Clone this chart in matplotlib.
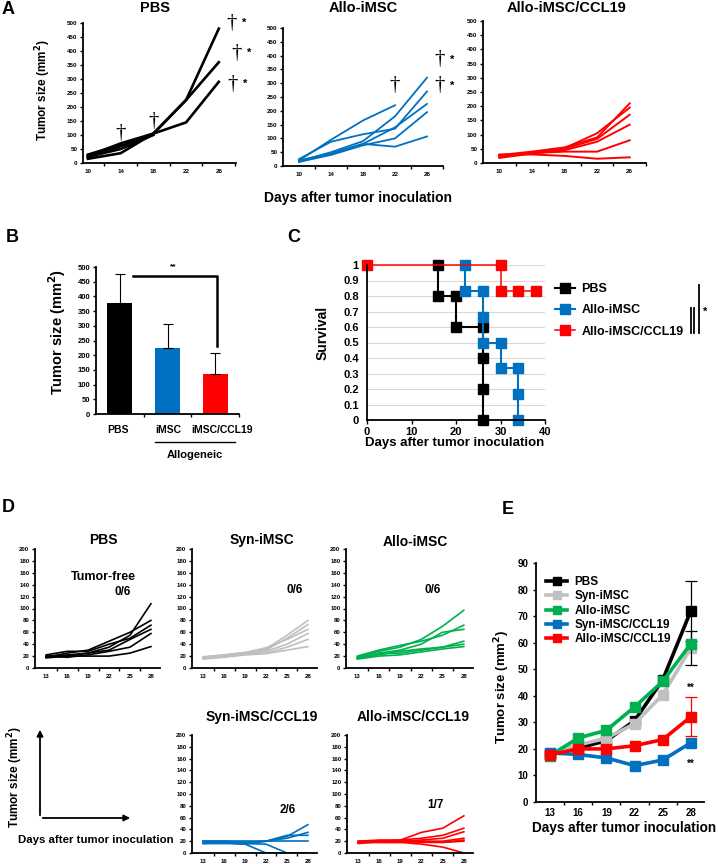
import numpy as np
import matplotlib
matplotlib.use('Agg')
import matplotlib.pyplot as plt
from matplotlib.lines import Line2D
from matplotlib.patches import FancyArrowPatch

plt.rcParams['font.family'] = ['Liberation Sans', 'DejaVu Sans']
plt.rcParams['font.weight'] = 'bold'
plt.rcParams['axes.labelweight'] = 'bold'
plt.rcParams['axes.linewidth'] = 1.3

W, H = 718, 864

# ---------------- data ----------------
# A: individual tumour sizes (mm2), shorter rows = mouse died
a_days = [10, 14, 18, 22, 26]
a_pbs = [[25, 70, 105, 225, 480],
         [20, 60, 105, 225, 360],
         [15, 35, 105, 145, 290],
         [30, 65],
         [22, 50, 100]]
a_allo = [[20, 95, 165, 220],
          [25, 88, 115, 135, 270],
          [18, 50, 90, 180, 320],
          [15, 45, 80, 140, 225],
          [15, 40, 75, 100, 195],
          [20, 45, 80, 70, 107]]
a_ccl19 = [[28, 40, 55, 90, 210],
           [25, 38, 52, 105, 195],
           [20, 35, 50, 85, 170],
           [18, 33, 45, 75, 135],
           [22, 35, 40, 40, 80],
           [30, 30, 25, 15, 20]]

# B: mean tumour size at day 26
b_groups = ['PBS', 'iMSC', 'iMSC/CCL19']
b_mean = [378, 226, 135]
b_err = [97, 80, 72]

# C: survival curves
c_pbs_t = [16, 16, 20, 20, 26, 26, 26, 26]
c_pbs_s = [1, 0.8, 0.8, 0.6, 0.6, 0.4, 0.2, 0]
c_allo_t = [22, 22, 26, 26, 26, 30, 30, 34, 34, 34]
c_allo_s = [1, 0.833, 0.833, 0.667, 0.5, 0.5, 0.333, 0.333, 0.167, 0]
c_ccl_t = [0, 30, 30, 34, 38]
c_ccl_s = [1, 1, 0.833, 0.833, 0.833]

# D: individual tumour sizes, days 13-28
d_days = [13, 16, 19, 22, 25, 28]
d_pbs = [[20, 22, 25, 35, 55, 108],
         [18, 25, 30, 45, 60, 80],
         [22, 28, 28, 40, 50, 72],
         [17, 20, 25, 30, 48, 65],
         [20, 18, 22, 28, 35, 58],
         [18, 20, 20, 20, 25, 36]]
d_syn = [[18, 22, 26, 32, 55, 80],
         [17, 20, 25, 30, 50, 73],
         [19, 22, 26, 34, 48, 65],
         [16, 20, 23, 28, 40, 58],
         [18, 21, 24, 25, 35, 48],
         [15, 18, 22, 24, 30, 36]]
d_allo = [[18, 28, 35, 48, 70, 97],
          [20, 30, 38, 45, 55, 72],
          [17, 25, 30, 40, 60, 65],
          [16, 22, 28, 32, 35, 45],
          [18, 24, 25, 30, 35, 40],
          [15, 20, 22, 27, 32, 36]]
d_synccl = [[20, 20, 18, 20, 28, 48],
            [18, 18, 18, 20, 25, 35],
            [16, 18, 15, 20, 30, 30],
            [20, 20, 20, 20, 20, 20],
            [18, 17, 15, 0, 0, 0],
            [16, 16, 16, 15, 0, 0]]
d_alloccl = [[18, 20, 22, 35, 42, 63],
             [20, 22, 22, 25, 30, 42],
             [16, 20, 20, 22, 25, 36],
             [18, 20, 20, 20, 20, 25],
             [20, 18, 18, 20, 18, 22],
             [17, 18, 18, 15, 10, 0],
             [19, 20, 20, 18, 18, 20]]

# E: mean tumour size
e_labels = ['PBS', 'Syn-iMSC', 'Allo-iMSC', 'Syn-iMSC/CCL19', 'Allo-iMSC/CCL19']
e_pbs = [18, 20.3, 23.1, 30.6, 46, 72]
e_syn = [18.5, 21.5, 24, 29.5, 40.4, 58]
e_allo = [17.5, 24.1, 27, 35.8, 45.4, 59.6]
e_synccl = [18.5, 17.9, 16.6, 13.7, 15.8, 22.3]
e_alloccl = [17.8, 20, 20, 21.2, 23.5, 32.1]
e_err28 = [11.3, 6.5, 0, 0, 7.3]

BLACK, BLUE, RED, GREEN, GREY = 'black', '#0070C0', '#FF0000', '#00B050', '#BFBFBF'

fig = plt.figure(figsize=(W / 100, H / 100), dpi=100)


def px_axes(l, t, r, b):
    return fig.add_axes([l / W, 1 - b / H, (r - l) / W, (b - t) / H])


def T(x, y, s, **kw):
    kw.setdefault('ha', 'center')
    kw.setdefault('va', 'center')
    fig.text(x / W, 1 - y / H, s, **kw)


def fline(xs, ys, lw=1.3, color='black'):
    fig.add_artist(Line2D([x / W for x in xs], [1 - y / H for y in ys],
                          lw=lw, color=color))


def base(ax, fs):
    for s in ['top', 'right']:
        ax.spines[s].set_visible(False)
    ax.tick_params(labelsize=fs, width=1, length=2.5, pad=1.5)


def cat_x(ax, labels, bounds, fs):
    ax.set_xticks(bounds)
    ax.set_xticklabels([])
    ax.set_xticks(labels, minor=True)
    ax.set_xticklabels([str(v) for v in labels], minor=True, fontsize=fs)
    ax.tick_params(axis='x', which='minor', length=0, pad=4)


# ---------------- A ----------------
T(8, 10, 'A', fontsize=13)
a_specs = [(83, 23, 236, 163, (9.4, 28.1), a_pbs, BLACK, 1.9, 'PBS', 155),
           (283, 28, 443, 166, (8, 28), a_allo, BLUE, 1.3, 'Allo-iMSC', 363),
           (483, 21, 646, 163, (8, 28), a_ccl19, RED, 1.4, 'Allo-iMSC/CCL19', 567)]
a_axes = []
for l, t, r, b, xl, series, col, lw, title, tx in a_specs:
    ax = px_axes(l, t, r, b)
    base(ax, 4.5)
    for v in series:
        ax.plot(a_days[:len(v)], v, color=col, lw=lw)
    ax.set_xlim(*xl)
    ax.set_ylim(0, 500)
    ax.set_yticks(range(0, 501, 50))
    cat_x(ax, a_days, [12, 16, 20, 24, 28], 4.5)
    T(tx, 8, title, fontsize=10.5)
    a_axes.append(ax)

dag = dict(fontsize=15, family='Liberation Serif', fontweight='normal',
           ha='center', va='center', clip_on=False)
ax = a_axes[0]
ax.text(14, 107, '†', **dag)
ax.text(18, 148, '†', **dag)
for x, y in [(27.6, 500), (28.2, 392), (27.7, 282)]:
    ax.text(x, y, '†', **dag)
    ax.text(x + 1.5, y, '*', fontsize=8, ha='center', va='center', clip_on=False)
ax = a_axes[1]
ax.text(22, 292, '†', **dag)
for x, y in [(27.6, 385), (27.6, 290)]:
    ax.text(x, y, '†', **dag)
    ax.text(x + 1.6, y, '*', fontsize=8, ha='center', va='center', clip_on=False)
T(43, 90, 'Tumor size (mm$^2$)', fontsize=8.5, rotation=90)
T(358, 198, 'Days after tumor inoculation', fontsize=10)

# ---------------- B ----------------
T(12, 237, 'B', fontsize=13)
ax = px_axes(96, 267, 239, 414)
base(ax, 5.5)
xb = np.arange(len(b_groups))
ax.bar(xb, b_mean, width=0.52, color=[BLACK, BLUE, RED])
ax.errorbar(xb, b_mean, yerr=[np.zeros(3), b_err], fmt='none', ecolor='black',
            elinewidth=0.8, capsize=3.5, capthick=0.8)
ax.set_xlim(-0.5, 2.5)
ax.set_ylim(0, 500)
ax.set_yticks(range(0, 501, 50))
ax.set_xticks([0.5, 1.5, 2.5])
ax.set_xticklabels([])
ax.plot([0.28, 2.04, 2.04], [470, 470, 232], color='black', lw=1.8, clip_on=False)
ax.text(1.11, 500, '**', fontsize=6, ha='center', va='center', clip_on=False)
for xx, g in zip([118, 168, 222], b_groups):
    T(xx, 430, g, fontsize=7.5)
fline([155, 235], [442, 442], lw=1)
T(195, 455, 'Allogeneic', fontsize=8)
T(57, 332, 'Tumor size (mm$^2$)', fontsize=10.5, rotation=90)

# ---------------- C ----------------
T(294, 237, 'C', fontsize=13)
ax = px_axes(367, 265, 545, 420)
base(ax, 8)
ax.set_xlim(0, 40)
ax.set_ylim(0, 1)
ax.set_yticks(np.arange(0, 1.01, 0.1))
ax.set_yticklabels(['0'] + ['%.1f' % v for v in np.arange(0.1, 0.95, 0.1)] + ['1'])
ax.set_xticks(range(0, 41, 10))
ax.tick_params(axis='y', length=0, pad=6)
ax.tick_params(axis='x', length=3, pad=2)
for g in np.arange(0.1, 1.01, 0.1):
    ax.axhline(g, color='#d9d9d9', lw=0.8, zorder=0)
h1, = ax.plot(c_pbs_t, c_pbs_s, color=BLACK, lw=1.5, marker='s', ms=7, clip_on=False)
h2, = ax.plot(c_allo_t, c_allo_s, color=BLUE, lw=1.5, marker='s', ms=7, clip_on=False)
h3, = ax.plot(c_ccl_t, c_ccl_s, color=RED, lw=1.1, marker='s', ms=7, clip_on=False)
ax.legend([h1, h2, h3], ['PBS', 'Allo-iMSC', 'Allo-iMSC/CCL19'], loc='upper left',
          bbox_to_anchor=(555 / W, 1 - 283 / H), bbox_transform=fig.transFigure,
          frameon=False, fontsize=9, handlelength=1.6, handletextpad=0.5,
          labelspacing=0.75, borderaxespad=0, borderpad=0)
T(323, 333, 'Survival', fontsize=10, rotation=90)
T(455, 443, 'Days after tumor inoculation', fontsize=9.5)
fline([699, 699], [285, 333], lw=1.3)
fline([690.5, 690.5], [308, 333], lw=1.3)
fline([694, 694], [308, 333], lw=1.3)
T(705, 312, '*', fontsize=8)

# ---------------- D ----------------
T(8, 508, 'D', fontsize=13)
d_specs = [(35, 549, 160, 668, d_pbs, BLACK, 'PBS', 103, 540, '0/6', 123, 592),
           (192, 549, 317, 668, d_syn, GREY, 'Syn-iMSC', 262, 540, '0/6', 295, 590),
           (346, 549, 473, 668, d_allo, GREEN, 'Allo-iMSC', 415, 542, '0/6', 433, 590),
           (192, 735, 317, 853, d_synccl, BLUE, 'Syn-iMSC/CCL19', 262, 717, '2/6', 288, 810),
           (347, 735, 473, 853, d_alloccl, RED, 'Allo-iMSC/CCL19', 413, 717, '1/7', 435, 805)]
for l, t, r, b, series, col, title, tx, ty, frac, fxp, fyp in d_specs:
    ax = px_axes(l, t, r, b)
    base(ax, 4.3)
    for v in series:
        ax.plot(d_days, v, color=col, lw=1.2)
    ax.set_xlim(11.4, 29.3)
    ax.set_ylim(0, 200)
    ax.set_yticks(range(0, 201, 20))
    cat_x(ax, d_days, [14.5, 17.5, 20.5, 23.5, 26.5], 4.3)
    T(tx, ty, title, fontsize=10)
    T(fxp, fyp, frac, fontsize=8.5)
T(103, 577, 'Tumor-free', fontsize=9)
# schematic axes
fig.add_artist(FancyArrowPatch((40 / W, 1 - 818 / H), (40 / W, 1 - 727 / H),
                               transform=fig.transFigure, arrowstyle='-|>',
                               mutation_scale=9, lw=1.3, color='black'))
fig.add_artist(FancyArrowPatch((40 / W, 1 - 818 / H), (133 / W, 1 - 818 / H),
                               transform=fig.transFigure, arrowstyle='-|>',
                               mutation_scale=9, lw=1.3, color='black'))
T(15, 777, 'Tumor size (mm$^2$)', fontsize=8.5, rotation=90)
T(96, 840, 'Days after tumor inoculation', fontsize=8.2)

# ---------------- E ----------------
T(508, 510, 'E', fontsize=13)
ax = px_axes(536, 563, 704, 802)
base(ax, 7)
e_series = [e_pbs, e_syn, e_allo, e_synccl, e_alloccl]
e_cols = [BLACK, '#C0C0C0', GREEN, BLUE, RED]
hs = []
for vals, col, err in zip(e_series, e_cols, e_err28):
    h, = ax.plot(d_days, vals, color=col, lw=2.6, marker='s', ms=6.5)
    if err:
        ax.errorbar([28], [vals[-1]], yerr=[[err], [err]], fmt='none',
                    ecolor=col if col != '#C0C0C0' else 'black',
                    elinewidth=0.9, capsize=4, capthick=0.9)
    hs.append(h)
ax.set_xlim(11.5, 29.4)
ax.set_ylim(0, 90)
ax.set_yticks(range(0, 91, 10))
cat_x(ax, d_days, [14.5, 17.5, 20.5, 23.5, 26.5], 7)
ax.tick_params(axis='y', pad=3)
ax.text(28, 43, '**', fontsize=7, ha='center', va='center')
ax.text(28, 14.5, '**', fontsize=7, ha='center', va='center')
ax.legend(hs, e_labels, loc='upper left', bbox_to_anchor=(546 / W, 1 - 576 / H),
          bbox_transform=fig.transFigure, frameon=False, fontsize=8.5,
          handlelength=1.8, handletextpad=0.6, labelspacing=0.2,
          borderaxespad=0, borderpad=0, markerscale=0.8)
T(502, 687, 'Tumor size (mm$^2$)', fontsize=9.5, rotation=90)
T(624, 828, 'Days after tumor inoculation', fontsize=9.8)

fig.savefig('out.png', dpi=100)
